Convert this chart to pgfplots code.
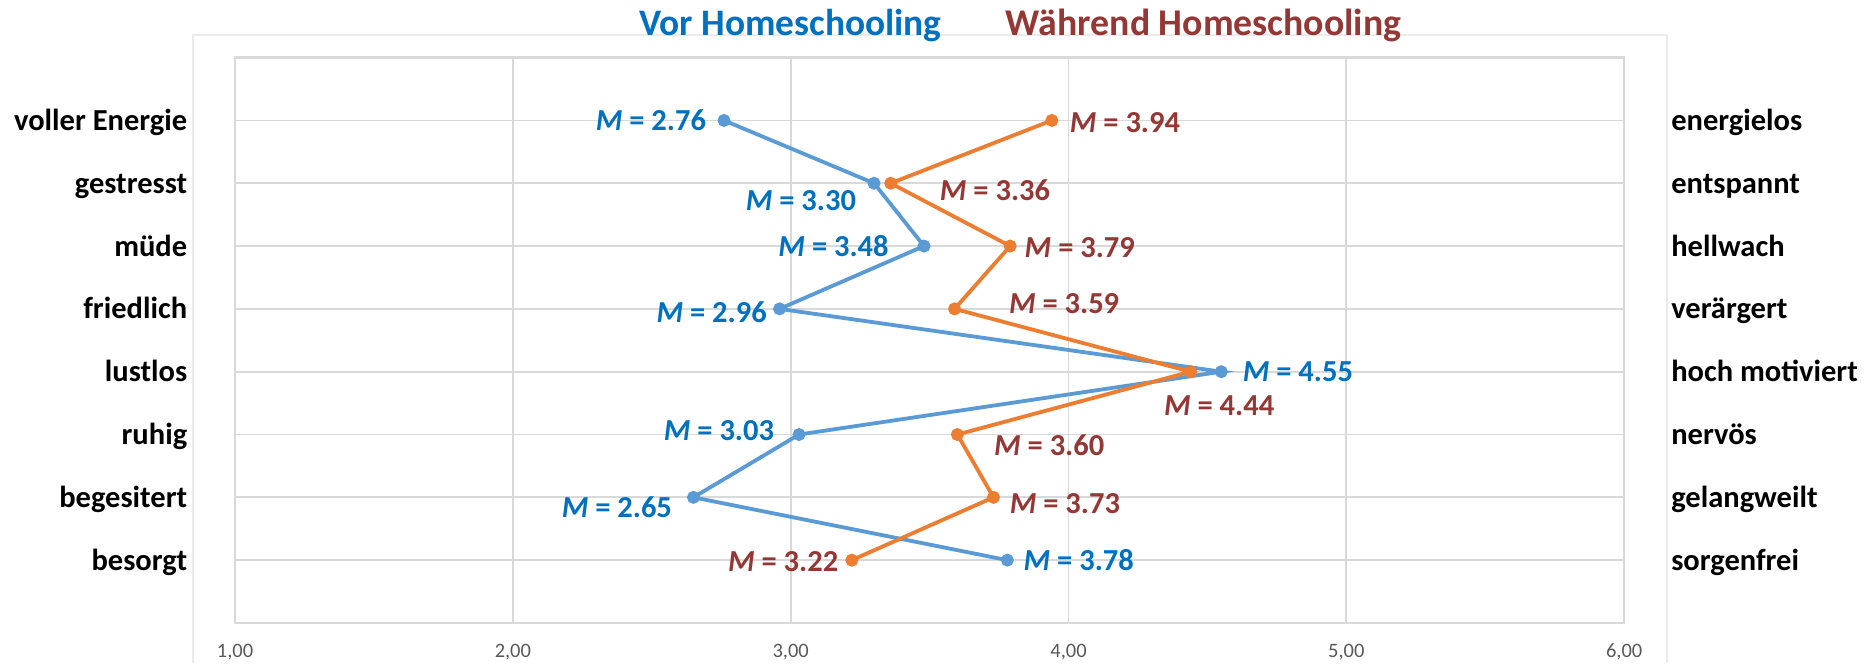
\documentclass[border=0pt]{standalone}
\usepackage{fontspec}
\setmainfont{Carlito}
\usepackage{pgfplots}
\pgfplotsset{compat=1.18}
\usepackage{pgfplotstable}
\definecolor{vorline}{HTML}{5B9BD5}
\definecolor{vortext}{HTML}{0070C0}
\definecolor{wline}{HTML}{ED7D31}
\definecolor{wtext}{HTML}{953735}
\definecolor{gridc}{HTML}{D9D9D9}
\definecolor{framec}{HTML}{EBEBEB}
\definecolor{tickc}{HTML}{595959}

\pgfplotstableread{
x y
2.76 1
3.30 2
3.48 3
2.96 4
4.55 5
3.03 6
2.65 7
3.78 8
}\vor
\pgfplotstableread{
x y
3.94 1
3.36 2
3.79 3
3.59 4
4.44 5
3.60 6
3.73 7
3.22 8
}\waehrend

\pgfplotsset{
  geom/.style={
    at={(67.8pt,-179.7pt)}, anchor=south west,
    width=400.7pt, height=163.1pt, scale only axis,
    xmin=1, xmax=6, ymin=0, ymax=9, y dir=reverse,
    major tick length=0pt, clip=false,
  },
}
% label: value, row, anchor, dx, dy, colour
\newcommand{\lbl}[6]{\node[anchor=#3, xshift=#4pt, yshift=#5pt, inner sep=0pt, text=#6,
  font=\bfseries\fontsize{8.8}{10}\selectfont] at (axis cs:#1,#2) {\textit{M} = #1};}

\begin{document}
\begin{tikzpicture}
\useasboundingbox (0pt,0pt) rectangle (540pt,-191.25pt);
\draw[framec, line width=0.7pt] (55.7pt,-191.25pt) -- (55.7pt,-10.1pt) -- (480.9pt,-10.1pt) -- (480.9pt,-191.25pt);
\node[anchor=base, text=vortext, font=\bfseries\fontsize{10.8}{12}\selectfont] at (228pt,-10.1pt) {Vor Homeschooling};
\node[anchor=base, text=wtext, font=\bfseries\fontsize{10.9}{12}\selectfont] at (347.2pt,-10.1pt) {Während Homeschooling};

\begin{axis}[geom,
  axis line style={draw=gridc, line width=0.7pt},
  xmajorgrids, ymajorgrids, grid style={gridc, line width=0.5pt},
  xtick={1,2,3,4,5,6},
  xticklabels={{1,00},{2,00},{3,00},{4,00},{5,00},{6,00}},
  xticklabel style={font=\fontsize{5.9}{7}\selectfont, text=tickc, inner sep=0pt, anchor=center, yshift=-8.4pt},
  ytick={1,2,3,4,5,6,7,8},
  yticklabels={voller Energie, gestresst, müde, friedlich, lustlos, ruhig, begesitert, besorgt},
  yticklabel style={font=\bfseries\fontsize{8.8}{10}\selectfont, text=black, inner sep=0pt, anchor=base east, xshift=-13.6pt, yshift=-2.9pt},
]
\addplot[vorline, line width=1.1pt, mark=*, mark size=1.3pt, mark options={fill=vorline, draw=vorline}]
  table[x=x, y=y] {\vor};
\addplot[wline, line width=1.1pt, mark=*, mark size=1.3pt, mark options={fill=wline, draw=wline}]
  table[x=x, y=y] {\waehrend};
\lbl{2.76}{1}{east}{-5}{0}{vortext}
\lbl{3.30}{2}{east}{-5}{-4.9}{vortext}
\lbl{3.48}{3}{east}{-10}{0}{vortext}
\lbl{2.96}{4}{east}{-3.5}{-1}{vortext}
\lbl{4.55}{5}{west}{6}{0}{vortext}
\lbl{3.03}{6}{east}{-7}{1}{vortext}
\lbl{2.65}{7}{east}{-6}{-2.7}{vortext}
\lbl{3.78}{8}{west}{4.5}{0}{vortext}
\lbl{3.94}{1}{west}{5}{-0.5}{wtext}
\lbl{3.36}{2}{west}{14}{-2}{wtext}
\lbl{3.79}{3}{west}{4}{-0.5}{wtext}
\lbl{3.59}{4}{west}{15.5}{1.6}{wtext}
\lbl{4.44}{5}{center}{8.2}{-9.9}{wtext}
\lbl{3.60}{6}{west}{10.4}{-3.1}{wtext}
\lbl{3.73}{7}{west}{4.5}{-1.7}{wtext}
\lbl{3.22}{8}{east}{-3.7}{-0.5}{wtext}
\end{axis}

\begin{axis}[geom,
  axis x line=none, axis y line*=right,
  y axis line style={draw=none},
  xtick=\empty,
  ytick={1,2,3,4,5,6,7,8},
  yticklabels={energielos, entspannt, hellwach, verärgert, hoch motiviert, nervös, gelangweilt, sorgenfrei},
  yticklabel style={font=\bfseries\fontsize{8.8}{10}\selectfont, text=black, inner sep=0pt, anchor=base west, xshift=13.4pt, yshift=-2.9pt},
]
\end{axis}
\end{tikzpicture}
\end{document}
